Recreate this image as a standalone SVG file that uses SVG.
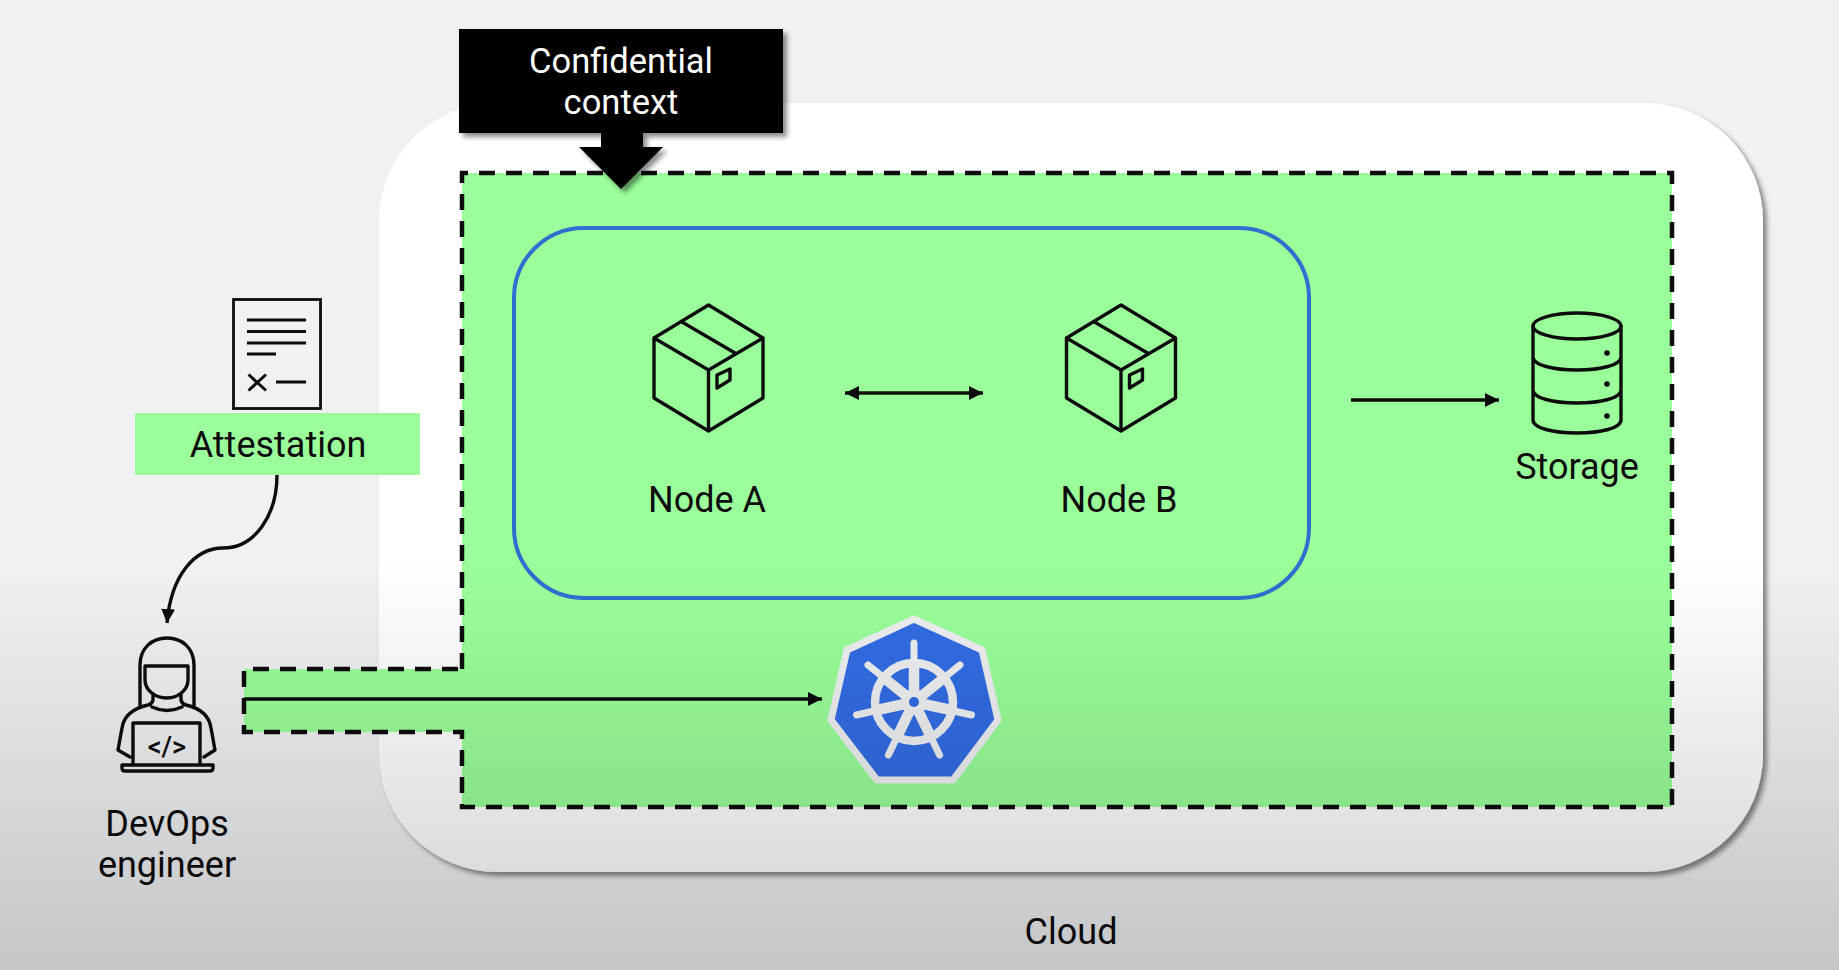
<svg xmlns="http://www.w3.org/2000/svg" width="1839" height="970" viewBox="0 0 1839 970">
<style>
text{font-family:Roboto,"Liberation Sans",sans-serif;font-size:36px;fill:#0c0c0c;text-anchor:middle}
.ic{fill:none;stroke:#0c0c0c;stroke-width:3.4;stroke-linejoin:round;stroke-linecap:round}
.ln{fill:none;stroke:#0c0c0c;stroke-width:3}
.dash{stroke:#0c0c0c;stroke-width:4.5;stroke-dasharray:16 11;fill:none}
</style>
<defs>
<linearGradient id="dim" x1="0" y1="0" x2="0" y2="1"><stop offset="0" stop-color="#000" stop-opacity="0"/><stop offset="1" stop-color="#000" stop-opacity="0.18"/></linearGradient>
<filter id="sh" x="-5%" y="-5%" width="110%" height="110%"><feDropShadow dx="4" dy="4" stdDeviation="2.500" flood-color="#000" flood-opacity="0.45"/></filter>
<marker id="ah" viewBox="0 0 14 14" refX="14" refY="7" markerWidth="14" markerHeight="14" markerUnits="userSpaceOnUse" orient="auto-start-reverse"><path d="M0 0L14 7L0 14Z" fill="#0c0c0c"/></marker>
<g id="cube"><path class="ic" d="M708.500 305L763 338V398L708.500 431L654 398V338ZM654 338L708.500 370L763 338M708.500 370V431M682 322L735 353M717 375L730 369V380L717 388Z"/></g>
</defs>
<rect id="background" width="1839" height="970" fill="#f0f1f3"/>
<g id="cloud"><rect x="379" y="103" width="1384" height="769" rx="118" fill="#fff" filter="url(#sh)"/><text x="1071" y="944">Cloud</text></g>
<g id="confidential-area">
<path d="M462 173H1672V807H462V732H244V669H462Z" fill="#9aff9a"/>
<path class="dash" d="M462 669V173H1672V807H462V732H244V669H462"/>
</g>
<g id="cluster"><rect x="514" y="228" width="795" height="370" rx="70" fill="#9aff9a" stroke="#2f6fd0" stroke-width="4"/></g>
<g id="node-a"><use href="#cube"/><text x="707" y="512">Node A</text></g>
<g id="node-b"><use href="#cube" x="412.500"/><text x="1119" y="512">Node B</text></g>
<g id="storage">
<ellipse cx="1577" cy="326" rx="44" ry="13" class="ic"/>
<path class="ic" d="M1533 326V420C1533 428 1553 433 1577 433C1601 433 1621 428 1621 420V326M1533 357C1533 365 1553 370 1577 370C1601 370 1621 365 1621 357M1533 390C1533 398 1553 403 1577 403C1601 403 1621 398 1621 390"/>
<circle cx="1607" cy="353" r="2.800" fill="#0c0c0c"/><circle cx="1607" cy="384" r="2.800" fill="#0c0c0c"/><circle cx="1607" cy="416" r="2.800" fill="#0c0c0c"/>
<text x="1577" y="479">Storage</text>
</g>
<g id="attestation">
<rect x="233.500" y="299.500" width="87" height="109" fill="none" stroke="#0c0c0c" stroke-width="2.800"/>
<path class="ln" d="M247 320H306M247 331.500H306M247 343H306M247 354H276M276 382H306M248.500 374.500L266 390.500M266 374.500L248.500 390.500"/>
<rect x="135" y="413" width="285" height="62" fill="#9aff9a"/>
<text x="278" y="457">Attestation</text>
</g>
<g id="devops">
<path class="ic" d="M140 706V665C140 648 152 638 167 638C182 638 194 648 194 665V706M145 666H188V680C188 690 178 698 167 698C155 698 145 690 145 680ZM153 694V700Q152 704 148 705M181 694V700Q182 704 186 705M152 707Q167 714 182 707M148 705C135 708 124 714 122 728L118 750L130 757M186 705C199 708 209 714 211 728L215 750L204 757M133 765V723H200V765M122 765H213V768Q213 771 210 771H125Q122 771 122 768Z"/>
<text x="167" y="756" style="font-size:27px;font-weight:500">&lt;/&gt;</text>
<text x="167" y="836">DevOps</text><text x="167" y="877">engineer</text>
</g>
<g id="kubernetes">
<path d="M914 619L982 650L998 720L953 780H877L831 720L847 650Z" fill="#326ce5" stroke="#eef0f2" stroke-width="7" stroke-linejoin="round"/>
<g fill="none" stroke="#eef0f2" stroke-linecap="round">
<circle cx="914" cy="702" r="39" stroke-width="8.500"/>
<path stroke-width="7" d="M914 702V643M914 702L960 665M914 702L868 665M914 702L971.500 715M914 702L856.500 715M914 702L939.600 755M914 702L888.400 755"/>
<path stroke-width="10.500" stroke-linecap="butt" d="M914 702V664M914 702L944 678M914 702L884 678M914 702L951 710M914 702L877 710M914 702L930.500 736M914 702L897.500 736"/>
</g>
<circle cx="914" cy="702" r="13" fill="#eef0f2"/>
<circle cx="914" cy="702" r="5" fill="#326ce5"/>
</g>
<g id="connectors" stroke="#0c0c0c" fill="none">
<path d="M845 393H983" stroke-width="3.400" marker-start="url(#ah)" marker-end="url(#ah)"/>
<path d="M1351 400H1499" stroke-width="3.400" marker-end="url(#ah)"/>
<path d="M244 699H822" stroke-width="3.400" marker-end="url(#ah)"/>
<path d="M277 475C277 515 255 548 223 548C195 548 171 575 167 623" stroke-width="3.400" marker-end="url(#ah)"/>
</g>
<g id="confidential-context">
<path d="M459 29H783V133H643V147H663L621 189L579 147H601V133H459Z" fill="#000" filter="url(#sh)"/>
<text x="621" y="72.500" style="fill:#fff;font-size:34.500px">Confidential</text><text x="621" y="114" style="fill:#fff;font-size:34.500px">context</text>
</g>
<rect id="shade" y="560" width="1839" height="410" fill="url(#dim)"/>
</svg>
